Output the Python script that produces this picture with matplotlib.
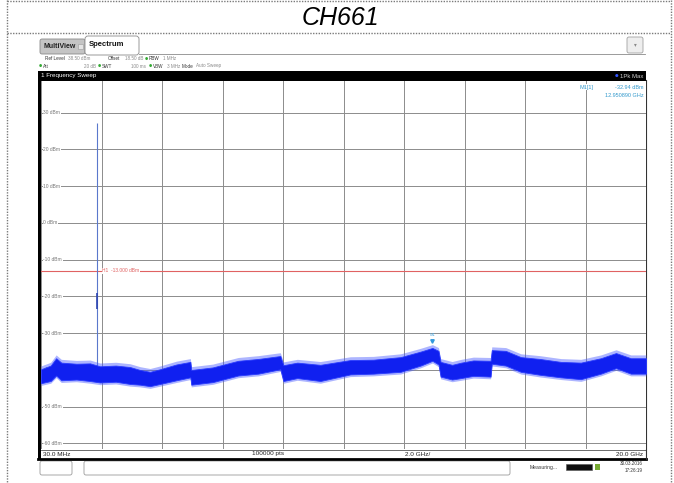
import matplotlib.pyplot as plt
from matplotlib.patches import Rectangle, FancyBboxPatch
import numpy as np

# trace envelope (GHz / dBm)
freq_ghz = [0.03, 0.35, 0.53, 0.7, 1.2, 1.65, 1.98, 2.5, 2.97, 3.3, 3.63, 3.96, 4.5, 4.96,
            4.99, 5.7, 6.54, 7.2, 7.93, 8.03, 8.49, 9.25, 10.24, 11.0, 11.9, 12.56, 12.95,
            13.15, 13.22, 13.6, 13.9, 14.3, 14.87, 14.91, 15.37, 15.87, 16.5, 17.19, 17.85,
            18.51, 19.01, 19.5, 20.0]
upper_dbm = [-39.8, -38.8, -36.8, -38.0, -38.3, -38.2, -39.0, -38.8, -39.2, -40.0, -40.5, -39.8,
             -38.5, -37.8, -40.0, -39.3, -37.5, -37.0, -36.2, -38.7, -38.0, -38.6, -37.3, -37.2,
             -36.5, -35.0, -34.0, -34.8, -37.8, -38.6, -38.0, -37.4, -37.5, -34.6, -34.8, -36.5,
             -37.0, -37.8, -38.0, -36.8, -35.4, -36.8, -36.8]
lower_dbm = [-43.6, -43.0, -41.5, -42.8, -42.6, -43.0, -43.4, -43.2, -43.8, -44.0, -44.4, -43.8,
             -42.8, -42.0, -44.0, -43.3, -41.5, -41.0, -39.8, -43.0, -42.2, -43.0, -41.2, -41.0,
             -40.5, -38.8, -37.5, -38.5, -41.8, -42.6, -42.2, -41.6, -41.8, -38.3, -38.8, -40.5,
             -41.3, -42.0, -42.5, -41.0, -39.5, -41.0, -41.0]

carrier_ghz = 1.88
carrier_peak_dbm = 27.3
limit_dbm = -13.0
m1_ghz = 12.950890
m1_dbm = -32.94

f_start, f_stop = 0.03, 20.0
ref_level = 38.5
y_grid = [30, 20, 10, 0, -10, -20, -30, -40, -50, -60]

small = ['Liberation Sans Narrow', 'Liberation Sans', 'DejaVu Sans']
W, H = 674, 483
fig = plt.figure(figsize=(6.74, 4.83), dpi=100)

# overlay in pixel coords for the page / screenshot chrome
ov = fig.add_axes([0, 0, 1, 1])
ov.set_xlim(0, W)
ov.set_ylim(H, 0)
ov.axis('off')

dot = dict(color='#7a7a7a', lw=1.0, ls=(0, (1, 1)))
ov.plot([7, 7], [0, H], **dot)
ov.plot([671, 671], [0, H], **dot)
ov.plot([7, 671], [1, 1], **dot)
ov.plot([7, 671], [33, 33], **dot)
ov.text(340, 18, 'CH661', fontsize=18, style='italic', family='Liberation Sans',
        ha='center', va='center')

# tabs
ov.add_patch(FancyBboxPatch((40, 39), 45, 15, boxstyle='round,pad=0,rounding_size=2',
                            fc='#c4c4c4', ec='#8a8a8a', lw=0.6))
ov.text(43, 47, 'MultiView', fontsize=5, weight='bold', family=small, va='center', color='#222')
ov.add_patch(Rectangle((78, 44), 5, 5, fc='#e4e4e4', ec='#999', lw=0.4))
ov.add_patch(FancyBboxPatch((85, 36), 54, 19, boxstyle='round,pad=0,rounding_size=3',
                            fc='white', ec='#8a8a8a', lw=0.6))
ov.text(89, 45, 'Spectrum', fontsize=5.5, weight='bold', family=small, va='center', color='#111')
ov.plot([139, 645], [54, 54], color='#8a8a8a', lw=0.6)
ov.add_patch(FancyBboxPatch((627, 37), 16, 16, boxstyle='round,pad=0,rounding_size=2',
                            fc='#eeeeee', ec='#a0a0a0', lw=0.6))
ov.text(635, 45, '▾', fontsize=4, color='#888', ha='center', va='center')

# settings lines
lab = dict(fontsize=3.3, family=small, va='center', color='#333')
val = dict(fontsize=3.3, family=small, va='center', color='#8a8a8a')
dotc = dict(fontsize=2.6, color='#33aa33', va='center', ha='center')
ov.text(45, 59, 'Ref Level', **lab)
ov.text(68, 59, '38.50 dBm', **val)
ov.text(108, 59, 'Offset', **lab)
ov.text(125, 59, '18.50 dB', **val)
ov.text(146, 59, '●', **dotc)
ov.text(149, 59, 'RBW', **lab)
ov.text(163, 59, '1 MHz', **val)
ov.text(40, 66, '●', **dotc)
ov.text(43, 66, 'Att', **lab)
ov.text(96, 66, '20 dB', ha='right', **val)
ov.text(99, 66, '●', **dotc)
ov.text(102, 66, 'SWT', **lab)
ov.text(131, 66, '100 ms', **val)
ov.text(150, 66, '●', **dotc)
ov.text(153, 66, 'VBW', **lab)
ov.text(167, 66, '3 MHz', **val)
ov.text(182, 66, 'Mode', **lab)
ov.text(196, 66, 'Auto Sweep', **val)

# black sweep bar
ov.add_patch(Rectangle((38, 71), 608, 9.5, fc='black', ec='none'))
ov.text(41, 76, '1 Frequency Sweep', fontsize=4.5, family=small, color='white', va='center')
ov.text(615, 76, '●', fontsize=3, color='#3355ff', va='center')
ov.text(643, 76, '1Pk Max', fontsize=4.3, family=small, color='#cccccc', va='center', ha='right')

# left black edge and bottom frame
ov.add_patch(Rectangle((38, 80), 3, 379, fc='black', ec='none'))
ov.plot([41, 646], [449.5, 449.5], color='#555', lw=0.6)
ov.plot([38, 646], [458.5, 458.5], color='black', lw=2)
ov.plot([645.5, 645.5], [80, 459], color='#333', lw=0.8)
bot = dict(fontsize=4.6, family=small, va='center', color='#222')
ov.text(43, 454, '30.0 MHz', **bot)
ov.text(268, 454, '100000 pts', ha='center', **bot)
ov.text(418, 454, '2.0 GHz/', ha='center', **bot)
ov.text(643, 454, '20.0 GHz', ha='right', **bot)

# status bar
ov.add_patch(FancyBboxPatch((40, 461), 32, 14, boxstyle='round,pad=0,rounding_size=2',
                            fc='white', ec='#9a9a9a', lw=0.6))
ov.add_patch(FancyBboxPatch((84, 461), 426, 14, boxstyle='round,pad=0,rounding_size=2',
                            fc='white', ec='#9a9a9a', lw=0.6))
ov.text(530, 467, 'Measuring...', fontsize=3.6, family=small, va='center', color='#333')
ov.add_patch(Rectangle((566, 464), 26, 6, fc='#111', ec='#555', lw=0.4))
ov.add_patch(Rectangle((595, 464), 5, 6, fc='#77aa33', ec='none'))
ov.text(643, 463.5, '30.03.2016', fontsize=3.3, family=small, va='center', ha='right', color='#333')
ov.text(643, 470.5, '17:26:19', fontsize=3.3, family=small, va='center', ha='right', color='#333')

# spectrum plot
ax = fig.add_axes([41 / W, (H - 449) / H, 605 / W, 367.5 / H])
ax.set_xlim(f_start, f_stop)
ax.set_ylim(ref_level - 100, ref_level)
ax.set_xticks(np.linspace(f_start, f_stop, 11))
ax.set_yticks(y_grid)
ax.set_axisbelow(True)
ax.grid(True, color='#8c8c8c', lw=0.7)
ax.tick_params(length=0, labelbottom=False, labelleft=False)
for s in ax.spines.values():
    s.set_visible(False)

for v in y_grid:
    ax.text(0.004, v, f'{v} dBm', transform=ax.get_yaxis_transform(), fontsize=3.5,
            family=small, color='#777', va='center', ha='left', zorder=0.8,
            bbox=dict(fc='white', ec='none', pad=0.6))

# H1 display line
ax.axhline(limit_dbm, color='#e06262', lw=0.8)
ax.text(2.05, limit_dbm, 'H1  -13.000 dBm', fontsize=3.5, family=small, color='#e06262',
        va='center', bbox=dict(fc='white', ec='none', pad=0.4))

# carrier spike and noise floor (soft fringe + solid core)
ax.vlines(carrier_ghz, -41, carrier_peak_dbm, color='#5a78cc', lw=0.8, zorder=2)
ax.vlines(carrier_ghz, -23.5, -19, color='#2c44b0', lw=1.2, zorder=2)
lo = np.array(lower_dbm)
hi = np.array(upper_dbm)
ax.fill_between(freq_ghz, lo - 0.6, hi + 0.9, color='#4a5cff', alpha=0.45, lw=0, zorder=3)
ax.fill_between(freq_ghz, lo, hi, color='#1020f0', lw=0.6, edgecolor='#2a3cff', zorder=3)

# marker M1
ax.plot(m1_ghz, m1_dbm + 0.8, marker='v', ms=2.5, color='#3399dd', zorder=4)
ax.text(m1_ghz, m1_dbm + 2.3, 'M1', fontsize=3, family=small, color='#55aadd', ha='center')
ax.text(0.89, 0.985, 'M1[1]', transform=ax.transAxes, fontsize=4, family=small,
        color='#3399cc', va='center', bbox=dict(fc='white', ec='none', pad=0.5))
ax.text(0.996, 0.985, f'{m1_dbm:.2f} dBm', transform=ax.transAxes, fontsize=4, family=small,
        color='#3399cc', va='center', ha='right', bbox=dict(fc='white', ec='none', pad=0.5))
ax.text(0.996, 0.962, f'{m1_ghz:.6f} GHz', transform=ax.transAxes, fontsize=4, family=small,
        color='#3399cc', va='center', ha='right', bbox=dict(fc='white', ec='none', pad=0.5))

plt.savefig('out.png', dpi=100)
